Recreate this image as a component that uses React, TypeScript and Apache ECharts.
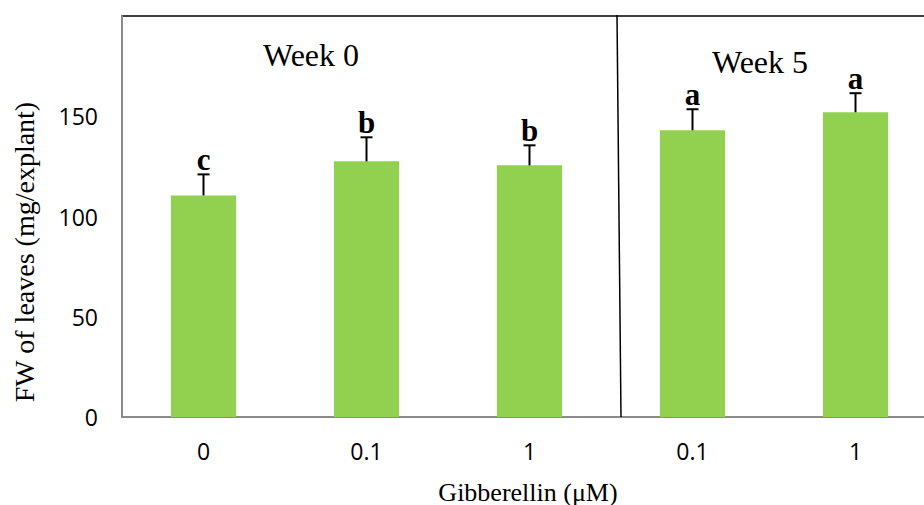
import React, { useEffect, useRef } from "react";
import * as echarts from "echarts";

const categories = ["0", "0.1", "1", "0.1", "1"];
const fwValues = [110.5, 127.5, 125.5, 143, 152];
const errValues = [10.5, 12, 10, 10.5, 9.5];
const letters = ["c", "b", "b", "a", "a"];
const weekLabels = ["Week 0", "Week 5"];
const yTicks = [0, 50, 100, 150, 200];

const SERIF = "'Liberation Serif', 'Times New Roman', serif";
const SANS = "'Open Sans', 'Liberation Sans', sans-serif";

export default function App() {
  const ref = useRef<HTMLDivElement>(null);
  useEffect(() => {
    if (!ref.current) return;
    const chart = echarts.init(ref.current, null, { renderer: "svg" });
    const errData = fwValues.map((v, i) => [i, v, errValues[i], letters[i]]);
    chart.setOption({
      animation: false,
      backgroundColor: "#ffffff",
      grid: {
        left: 122,
        top: 16,
        right: -13,
        bottom: 88,
        outerBoundsMode: "none",
        containLabel: false,
        show: true,
        borderColor: "#000000",
        borderWidth: 1.5,
        backgroundColor: "transparent",
      },
      xAxis: {
        type: "category",
        data: categories,
        axisLine: { show: true, lineStyle: { color: "#8c8c8c", width: 2 } },
        axisTick: { show: false },
        axisLabel: { color: "#000", fontFamily: SANS, fontSize: 23, margin: 22 },
        splitLine: { show: false },
      },
      yAxis: {
        type: "value",
        min: yTicks[0],
        max: yTicks[yTicks.length - 1],
        interval: 50,
        axisLine: { show: true, lineStyle: { color: "#8c8c8c", width: 2 } },
        axisTick: { show: false },
        splitLine: { show: false },
        axisLabel: {
          color: "#000",
          fontFamily: SANS,
          fontSize: 23,
          margin: 24,
          showMaxLabel: false,
          formatter: (v: number) => (v >= 200 ? "" : String(v)),
        },
      },
      graphic: [
        {
          type: "line",
          shape: { x1: 617, y1: 15, x2: 621, y2: 417 },
          style: { stroke: "#000", lineWidth: 1.5 },
          z: 10,
        },
        {
          type: "text",
          x: 311,
          y: 55,
          style: {
            text: weekLabels[0],
            font: `32px ${SERIF}`,
            fill: "#000",
            textAlign: "center",
            textVerticalAlign: "middle",
            align: "center",
            verticalAlign: "middle",
          },
        },
        {
          type: "text",
          x: 760,
          y: 62,
          style: {
            text: weekLabels[1],
            font: `32px ${SERIF}`,
            fill: "#000",
            textAlign: "center",
            textVerticalAlign: "middle",
            align: "center",
            verticalAlign: "middle",
          },
        },
        {
          type: "text",
          x: 24,
          y: 252,
          rotation: Math.PI / 2,
          style: {
            text: "FW of leaves (mg/explant)",
            font: `28px ${SERIF}`,
            fill: "#000",
            textAlign: "center",
            textVerticalAlign: "middle",
            align: "center",
            verticalAlign: "middle",
          },
        },
        {
          type: "text",
          x: 528,
          y: 492,
          style: {
            text: "Gibberellin (μM)",
            font: `26px ${SERIF}`,
            fill: "#000",
            textAlign: "center",
            textVerticalAlign: "middle",
            align: "center",
            verticalAlign: "middle",
          },
        },
      ],
      series: [
        {
          type: "bar",
          data: fwValues,
          barWidth: "40%",
          itemStyle: { color: "#92D050" },
          z: 2,
        },
        {
          type: "custom",
          data: errData,
          z: 5,
          clip: false,
          renderItem: (params: any, api: any) => {
            const idx = api.value(0);
            const v = api.value(1);
            const e = api.value(2);
            const letter = letters[params.dataIndex];
            const base = api.coord([idx, v]);
            const top = api.coord([idx, v + e]);
            const cap = 6;
            return {
              type: "group",
              children: [
                {
                  type: "line",
                  shape: { x1: top[0], y1: base[1], x2: top[0], y2: top[1] },
                  style: { stroke: "#000", lineWidth: 2 },
                },
                {
                  type: "line",
                  shape: { x1: top[0] - cap, y1: top[1], x2: top[0] + cap, y2: top[1] },
                  style: { stroke: "#000", lineWidth: 2 },
                },
                {
                  type: "text",
                  x: top[0],
                  y: top[1] + 1,
                  style: {
                    text: letter,
                    font: `bold 31px ${SERIF}`,
                    fill: "#000",
                    textAlign: "center",
                    textVerticalAlign: "bottom",
                    align: "center",
                    verticalAlign: "bottom",
                  },
                },
              ],
            };
          },
        },
      ],
    });
    return () => chart.dispose();
  }, []);
  return (
    <div
      ref={ref}
      style={{ position: "absolute", left: 0, top: 0, width: 924, height: 505 }}
    />
  );
}
